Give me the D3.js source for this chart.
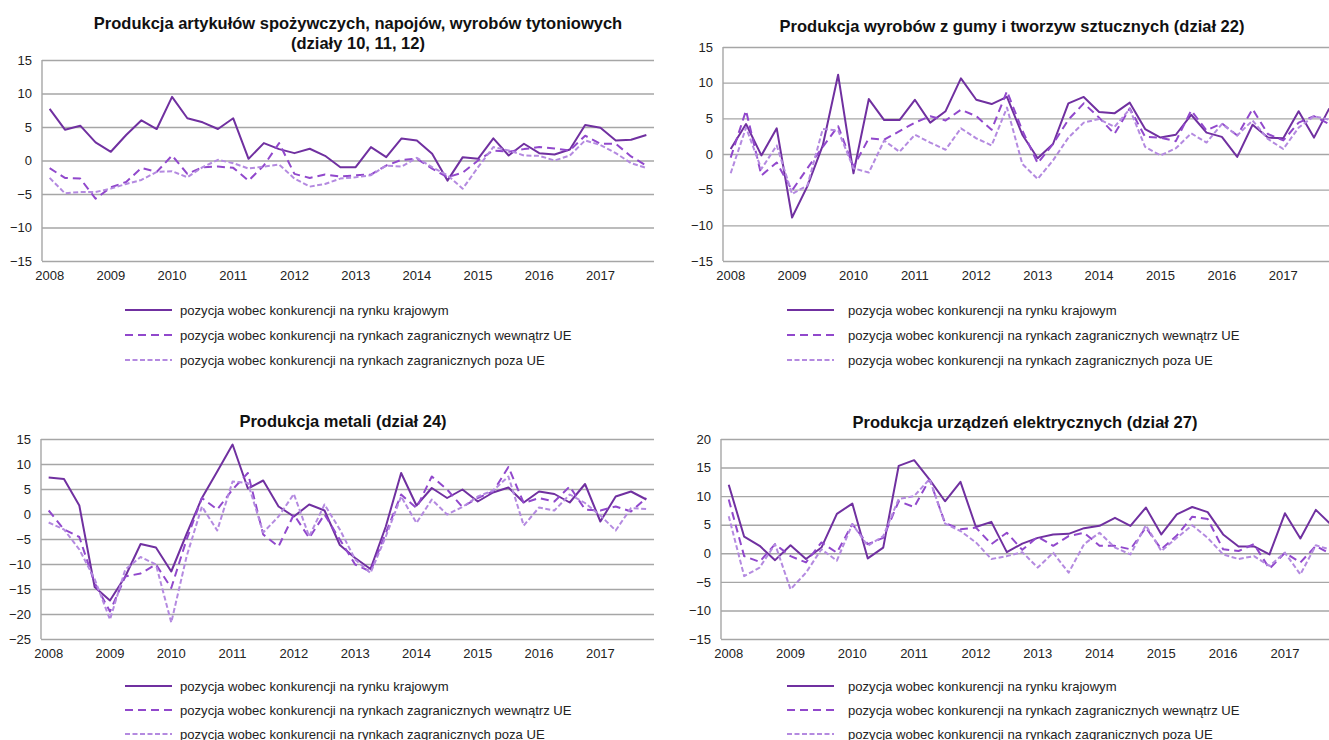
<!DOCTYPE html>
<html>
<head>
<meta charset="utf-8">
<script src="https://cdn.jsdelivr.net/npm/d3@7"></script>
<style>
  body { margin: 0; background: #fff; }
  svg { display: block; font-family: Arial, "Liberation Sans", sans-serif; }
</style>
</head>
<body>
<svg id="chart" width="1329" height="740"></svg>
<script>
// quarters 2008Q1 - 2017Q4
let years = ['2008', '2009', '2010', '2011', '2012', '2013', '2014', '2015', '2016', '2017'];
let quarters = [];
years.forEach(y => { for (let q = 1; q <= 4; q++) quarters.push(y + 'Q' + q); });

let seriesNames = [
  'pozycja wobec konkurencji na rynku krajowym',
  'pozycja wobec konkurencji na rynkach zagranicznych wewnątrz UE',
  'pozycja wobec konkurencji na rynkach zagranicznych poza UE'
];

// dzialy 10, 11, 12
let foodDomestic = [7.7, 4.6, 5.2, 2.7, 1.3, 3.8, 6.0, 4.7, 9.5, 6.3, 5.7, 4.7, 6.3, 0.25, 2.6, 1.7, 1.1, 1.75, 0.7, -1.0,
  -1.0, 2.0, 0.5, 3.3, 3.0, 1.0, -3.0, 0.5, 0.25, 3.3, 0.75, 2.5, 1.1, 0.9, 1.65, 5.3, 4.9, 3.0, 3.1, 3.8];
let foodInsideEU = [-1.15, -2.6, -2.7, -5.7, -4.0, -3.2, -1.1, -1.7, 0.75, -2.0, -1.0, -0.9, -1.1, -3.0, -0.75, 2.6, -2.0, -2.6, -2.1, -2.4,
  -2.2, -2.1, -0.75, 0.1, 0.25, -1.2, -2.5, -1.8, 0.0, 1.5, 1.3, 1.7, 2.0, 1.8, 1.5, 3.7, 2.5, 2.5, 0.6, -0.75];
let foodOutsideEU = [-2.6, -4.9, -4.7, -4.7, -4.2, -3.5, -2.9, -1.7, -1.6, -2.5, -1.0, 0.1, -0.4, -1.2, -0.9, -0.6, -2.7, -3.9, -3.5, -2.7,
  -2.5, -2.2, -0.75, -0.9, 0.4, -1.0, -2.2, -4.2, -1.0, 2.0, 1.5, 0.75, 0.7, 0.0, 0.75, 3.0, 2.3, 1.1, -0.4, -1.1];

// dzial 22
let rubberDomestic = [0.7, 4.2, -0.2, 3.6, -8.9, -4.5, 1.2, 11.1, -2.7, 7.7, 4.75, 4.75, 7.6, 4.4, 6.0, 10.6, 7.6, 7.0, 8.0, 2.7,
  -0.6, 1.4, 7.1, 8.0, 5.9, 5.7, 7.2, 3.5, 2.3, 2.7, 5.5, 3.0, 2.4, -0.4, 4.1, 2.3, 2.2, 6.0, 2.3, 6.4];
let rubberInsideEU = [-0.5, 6.1, -3.0, -1.2, -5.1, -2.0, 1.0, 3.9, -1.8, 2.2, 2.0, 3.2, 4.4, 5.3, 4.7, 6.2, 5.3, 3.4, 8.8, 3.3,
  -1.3, 1.4, 4.8, 7.1, 5.1, 2.8, 6.4, 2.4, 2.3, 1.8, 6.1, 3.3, 4.3, 2.6, 6.3, 2.8, 1.9, 4.4, 5.3, 4.2];
let rubberOutsideEU = [-2.7, 3.7, -2.1, 1.2, -5.6, -4.4, 3.5, 3.3, -2.0, -2.6, 1.9, 0.3, 2.7, 1.6, 0.6, 3.6, 2.2, 1.2, 6.5, -1.4,
  -3.5, -0.9, 2.3, 4.4, 4.9, 3.8, 6.3, 1.0, -0.2, 0.8, 2.9, 1.6, 4.2, 2.6, 4.7, 2.1, 0.7, 3.7, 5.3, 4.8];

// dzial 24
let metalDomestic = [7.3, 7.0, 1.7, -14.6, -17.3, -12.5, -6.0, -6.7, -11.5, -4.0, 3.2, 8.5, 13.9, 5.1, 6.7, 1.5, -0.5, 1.9, 0.7, -6.2,
  -8.8, -11.0, -2.5, 8.2, 1.7, 5.2, 3.2, 4.9, 2.5, 4.3, 5.3, 2.3, 4.5, 4.0, 2.3, 6.0, -1.5, 3.5, 4.5, 2.9];
let metalInsideEU = [0.7, -3.1, -4.6, -13.8, -19.5, -12.5, -11.9, -10.1, -14.8, -5.1, 3.2, 0.9, 4.9, 8.2, -4.1, -6.5, -0.1, -4.8, -0.1, -5.1,
  -10.1, -11.5, -3.8, 3.9, 1.2, 7.5, 4.9, 1.4, 3.2, 4.5, 9.4, 2.2, 3.2, 2.5, 5.5, 0.9, 0.7, 1.5, 0.5, 3.2];
let metalOutsideEU = [-1.7, -3.1, -7.1, -13.0, -21.1, -11.1, -8.6, -10.1, -21.7, -8.5, 1.5, -3.3, 6.5, 6.2, -3.7, -0.5, 4.0, -4.5, 1.9, -3.1,
  -9.1, -11.8, -4.5, 3.5, -1.8, 2.9, -0.1, 1.4, 3.5, 4.7, 7.5, -2.3, 1.3, 0.7, 3.9, 2.2, -0.3, -3.3, 1.2, 1.0];

// dzial 27
let electricDomestic = [12.0, 2.9, 1.3, -1.2, 1.4, -1.0, 1.0, 6.9, 8.7, -0.9, 1.0, 15.3, 16.3, 12.9, 9.1, 12.5, 4.6, 5.5, 0.2, 1.7,
  2.7, 3.3, 3.4, 4.4, 4.8, 6.2, 4.8, 8.0, 3.3, 6.8, 8.1, 7.2, 3.3, 1.2, 1.2, -0.2, 7.0, 2.6, 7.6, 5.0];
let electricInsideEU = [9.4, -0.5, -1.5, 1.6, -0.5, -1.6, 1.9, 0.1, 5.1, 1.6, 2.7, 9.1, 8.1, 12.9, 5.3, 4.2, 4.5, 1.6, 3.6, 0.6,
  2.9, 1.3, 3.0, 3.6, 1.3, 1.3, 0.7, 4.5, 0.7, 3.1, 6.4, 6.0, 0.7, 0.4, 1.6, -2.7, 0.1, -1.6, 1.3, -0.2];
let electricOutsideEU = [6.5, -4.0, -2.5, 1.6, -6.3, -3.4, 0.7, -1.3, 5.1, 1.3, 3.0, 9.5, 10.0, 13.0, 5.2, 3.9, 1.9, -1.0, -0.5, 0.2,
  -2.5, 0.1, -3.4, 1.6, 3.6, 1.0, -0.2, 4.9, 0.4, 2.7, 4.9, 2.7, -0.2, -1.0, -0.5, -2.2, 0.1, -3.7, 1.4, 0.6];

let styles = [
  { color: '#7030a0', width: 2, dash: null },
  { color: '#9148cc', width: 2, dash: '8,5' },
  { color: '#b48ae0', width: 2, dash: '5,2.5' }
];

let svg = d3.select('#chart');

function drawPanel(opt) {
  let g = svg.append('g');

  let x = d3.scaleBand().domain(quarters).range([opt.left, opt.right]);
  let y = d3.scaleLinear().domain(opt.domain).range([opt.bottom, opt.top]);

  // gridlines + y labels
  let yAxis = d3.axisLeft(y)
    .tickValues(d3.range(opt.domain[0], opt.domain[1] + 1, 5))
    .tickSize(-(opt.right - opt.left))
    .tickPadding(10);
  let ya = g.append('g').attr('transform', 'translate(' + opt.left + ',0)').call(yAxis);
  ya.select('.domain').remove();
  ya.selectAll('line').attr('stroke', '#a6a6a6').attr('stroke-width', 1.4);
  ya.selectAll('text').attr('fill', '#222').style('font-size', '13px');

  // left axis line
  g.append('line')
    .attr('x1', opt.left).attr('x2', opt.left)
    .attr('y1', opt.top).attr('y2', opt.bottom)
    .attr('stroke', '#a6a6a6').attr('stroke-width', 1.4);

  // year labels under first quarter
  let xAxis = d3.axisBottom(x)
    .tickValues(years.map(yr => yr + 'Q1'))
    .tickFormat(d => d.slice(0, 4))
    .tickSize(0)
    .tickPadding(10);
  let xa = g.append('g').attr('transform', 'translate(0,' + opt.bottom + ')').call(xAxis);
  xa.select('.domain').remove();
  xa.selectAll('text').attr('fill', '#222').style('font-size', '13px');

  // lines
  let line = d3.line()
    .x((d, i) => x(quarters[i]) + x.bandwidth() / 2)
    .y(d => y(d));

  opt.series.forEach((s, k) => {
    g.append('path')
      .datum(s)
      .attr('fill', 'none')
      .attr('stroke', styles[k].color)
      .attr('stroke-width', styles[k].width)
      .attr('stroke-dasharray', styles[k].dash)
      .attr('stroke-linejoin', 'round')
      .attr('d', line);
  });

  // title
  let t = g.append('text')
    .attr('x', opt.titleX)
    .attr('text-anchor', 'middle')
    .style('font-weight', 'bold')
    .style('font-size', '16.5px')
    .attr('fill', '#111');
  opt.title.forEach((txt, i) => {
    t.append('tspan').attr('x', opt.titleX).attr('y', opt.titleY + i * 20).text(txt);
  });

  // legend
  seriesNames.forEach((name, k) => {
    let ly = opt.legendY + k * opt.legendStep;
    g.append('line')
      .attr('x1', opt.legendX).attr('x2', opt.legendX + 47)
      .attr('y1', ly).attr('y2', ly)
      .attr('stroke', styles[k].color)
      .attr('stroke-width', styles[k].width)
      .attr('stroke-dasharray', styles[k].dash);
    g.append('text')
      .attr('x', opt.legendTextX)
      .attr('y', ly + 4.5)
      .style('font-size', '13.1px')
      .attr('fill', '#222')
      .text(name);
  });
}

drawPanel({
  left: 42, right: 654, top: 60, bottom: 261, domain: [-15, 15],
  series: [foodDomestic, foodInsideEU, foodOutsideEU],
  title: ['Produkcja artykułów spożywczych, napojów, wyrobów tytoniowych', '(działy 10, 11, 12)'],
  titleX: 358, titleY: 29,
  legendX: 125, legendTextX: 180, legendY: 310, legendStep: 25
});

drawPanel({
  left: 723, right: 1337, top: 47, bottom: 261, domain: [-15, 15],
  series: [rubberDomestic, rubberInsideEU, rubberOutsideEU],
  title: ['Produkcja wyrobów z gumy i tworzyw sztucznych (dział 22)'],
  titleX: 1012, titleY: 32,
  legendX: 787, legendTextX: 848, legendY: 310, legendStep: 25
});

drawPanel({
  left: 41, right: 654, top: 439, bottom: 639, domain: [-25, 15],
  series: [metalDomestic, metalInsideEU, metalOutsideEU],
  title: ['Produkcja metali (dział 24)'],
  titleX: 343, titleY: 427,
  legendX: 125, legendTextX: 180, legendY: 686, legendStep: 24
});

drawPanel({
  left: 721, right: 1339, top: 439, bottom: 639, domain: [-15, 20],
  series: [electricDomestic, electricInsideEU, electricOutsideEU],
  title: ['Produkcja urządzeń elektrycznych (dział 27)'],
  titleX: 1025, titleY: 428,
  legendX: 787, legendTextX: 848, legendY: 686, legendStep: 24
});
</script>
</body>
</html>
